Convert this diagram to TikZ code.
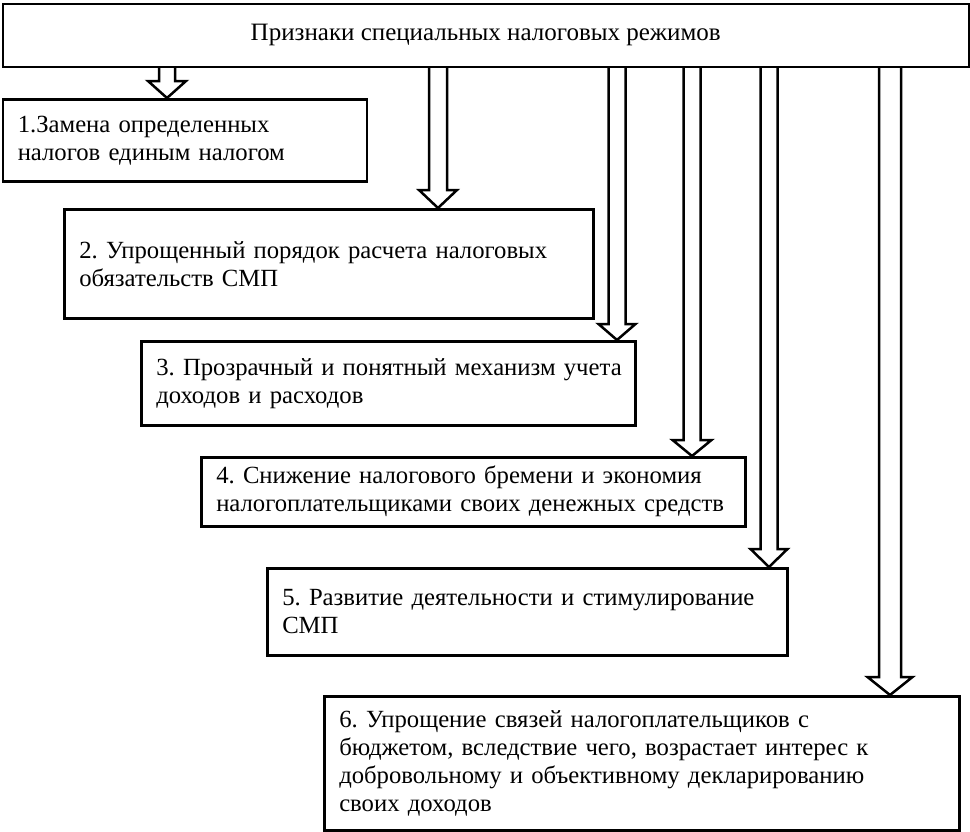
\documentclass[tikz,border=0pt]{standalone}
\usepackage{fontspec}
\setmainfont{Liberation Serif}
\usetikzlibrary{calc}
\tikzset{
  box/.style={draw, line width=2.5pt, anchor=north west, inner xsep=15pt, inner ysep=0pt,
    align=left, font=\fontsize{24.7}{28}\selectfont\frenchspacing},
  arr/.style={draw, line width=2.5pt, line join=miter}
}
\newcommand\hollowarrow[5]{%
  \draw[arr] let \p1=(top.south), \p2=(#1.north) in
  ({(#2-#3)*1pt},\y1) -- ({(#2-#3)*1pt},{\y2+#5pt}) -- ({(#2-#4)*1pt},{\y2+#5pt})
  -- ({#2*1pt},\y2) -- ({(#2+#4)*1pt},{\y2+#5pt}) -- ({(#2+#3)*1pt},{\y2+#5pt})
  -- ({(#2+#3)*1pt},\y1);}
\begin{document}
\begin{tikzpicture}[x=1pt,y=-1pt]
\useasboundingbox (0,0) rectangle (970,831);
\node[box, align=center, minimum width=966, minimum height=63,
  font=\fontsize{25}{28}\selectfont] (top) at (1.5,2.5)
  {Признаки специальных налоговых режимов};
\node[box, minimum width=364, minimum height=82, text width=334] (b1) at (1.5,98)
  {\mbox{1.Замена определенных}\\\mbox{налогов единым налогом}};
\node[box, minimum width=529, minimum height=109, text width=499] (b2) at (63,208)
  {\mbox{2. Упрощенный порядок расчета налоговых}\\\mbox{обязательств СМП}};
\node[box, minimum width=494, minimum height=84, text width=464] (b3) at (140,340)
  {\mbox{3. Прозрачный и понятный механизм учета}\\\mbox{доходов и расходов}};
\node[box, minimum width=544, minimum height=69, text width=514] (b4) at (200,456)
  {\mbox{4. Снижение налогового бремени и экономия}\\\mbox{налогоплательщиками своих денежных средств}};
\node[box, minimum width=520, minimum height=87, text width=490] (b5) at (266,567)
  {\mbox{5. Развитие деятельности и стимулирование}\\\mbox{СМП}};
\node[box, minimum width=635, minimum height=134, text width=605] (b6) at (323,695)
  {\mbox{6. Упрощение связей налогоплательщиков с}\\\mbox{бюджетом, вследствие чего, возрастает интерес к}\\\mbox{добровольному и объективному декларированию}\\\mbox{своих доходов}};
\hollowarrow{b1}{167}{8}{19}{17}
\hollowarrow{b2}{438}{9}{19}{18}
\hollowarrow{b3}{617}{8.5}{18.5}{16}
\hollowarrow{b4}{692}{8.5}{19.5}{16}
\hollowarrow{b5}{769}{8.5}{18.5}{18}
\hollowarrow{b6}{890}{11}{22.5}{18}
\end{tikzpicture}
\end{document}
